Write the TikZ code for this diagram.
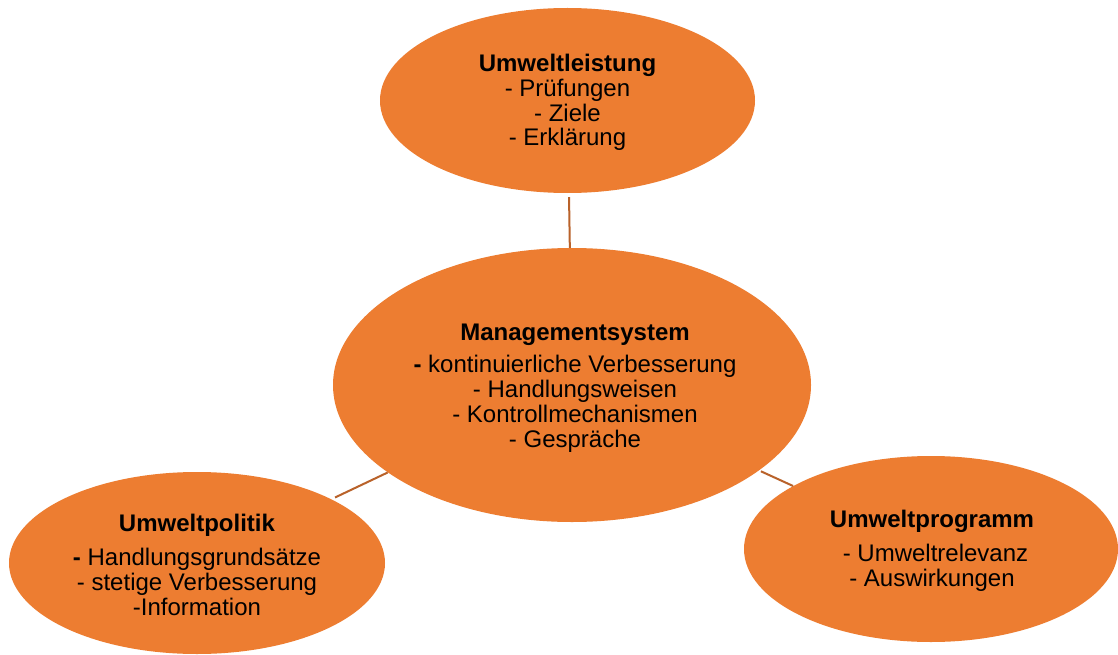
\documentclass[tikz,border=0pt]{standalone}
\usepackage{fontspec}
\setmainfont{Liberation Sans}
\usetikzlibrary{shapes.geometric}
\definecolor{ofill}{HTML}{ED7D31}
\definecolor{oline}{HTML}{B9622A}
\tikzset{
  bubble/.style={ellipse, fill=ofill, inner sep=0pt},
  txt/.style={inner sep=0pt, align=center, font=\fontsize{24}{24.8}\selectfont},
  link/.style={draw=oline, line width=2pt}
}
\begin{document}
\begin{tikzpicture}[x=1pt,y=-1pt]
\fill[white] (0,0) rectangle (1118,655);
\useasboundingbox (0,0) rectangle (1118,655);
\node[bubble, minimum width=375pt, minimum height=185pt] (ul) at (567.5,100.5) {};
\node[bubble, minimum width=478pt, minimum height=274pt] (ms) at (572,385) {};
\node[bubble, minimum width=376pt, minimum height=182pt] (up) at (197,563) {};
\node[bubble, minimum width=374pt, minimum height=186pt] (uprog) at (931,549) {};
\node[txt] (ul-t) at ([yshift=-2pt]ul.center)
  {\textbf{Umweltleistung}\\- Prüfungen\\- Ziele\\- Erklärung};
\node[txt] (ms-t) at ([xshift=3pt,yshift=-3pt]ms.center)
  {\textbf{Managementsystem}\\[8pt]\textbf{-} kontinuierliche Verbesserung\\- Handlungsweisen\\- Kontrollmechanismen\\- Gespräche};
\node[txt] (up-t) at ([yshift=-2pt]up.center)
  {\textbf{Umweltpolitik}\\[9pt]\textbf{-} Handlungsgrundsätze\\- stetige Verbesserung\\-Information};
\node[txt] (uprog-t) at ([xshift=1pt,yshift=-2pt]uprog.center)
  {\textbf{Umweltprogramm}\\[9pt]\hspace{7pt}- Umweltrelevanz\\- Auswirkungen};
\draw[link, shorten <=4pt] (ul) -- (ms);
\draw[link, shorten >=4pt] (ms) -- (up);
\draw[link, shorten <=2pt] (ms) -- (uprog);
\end{tikzpicture}
\end{document}
